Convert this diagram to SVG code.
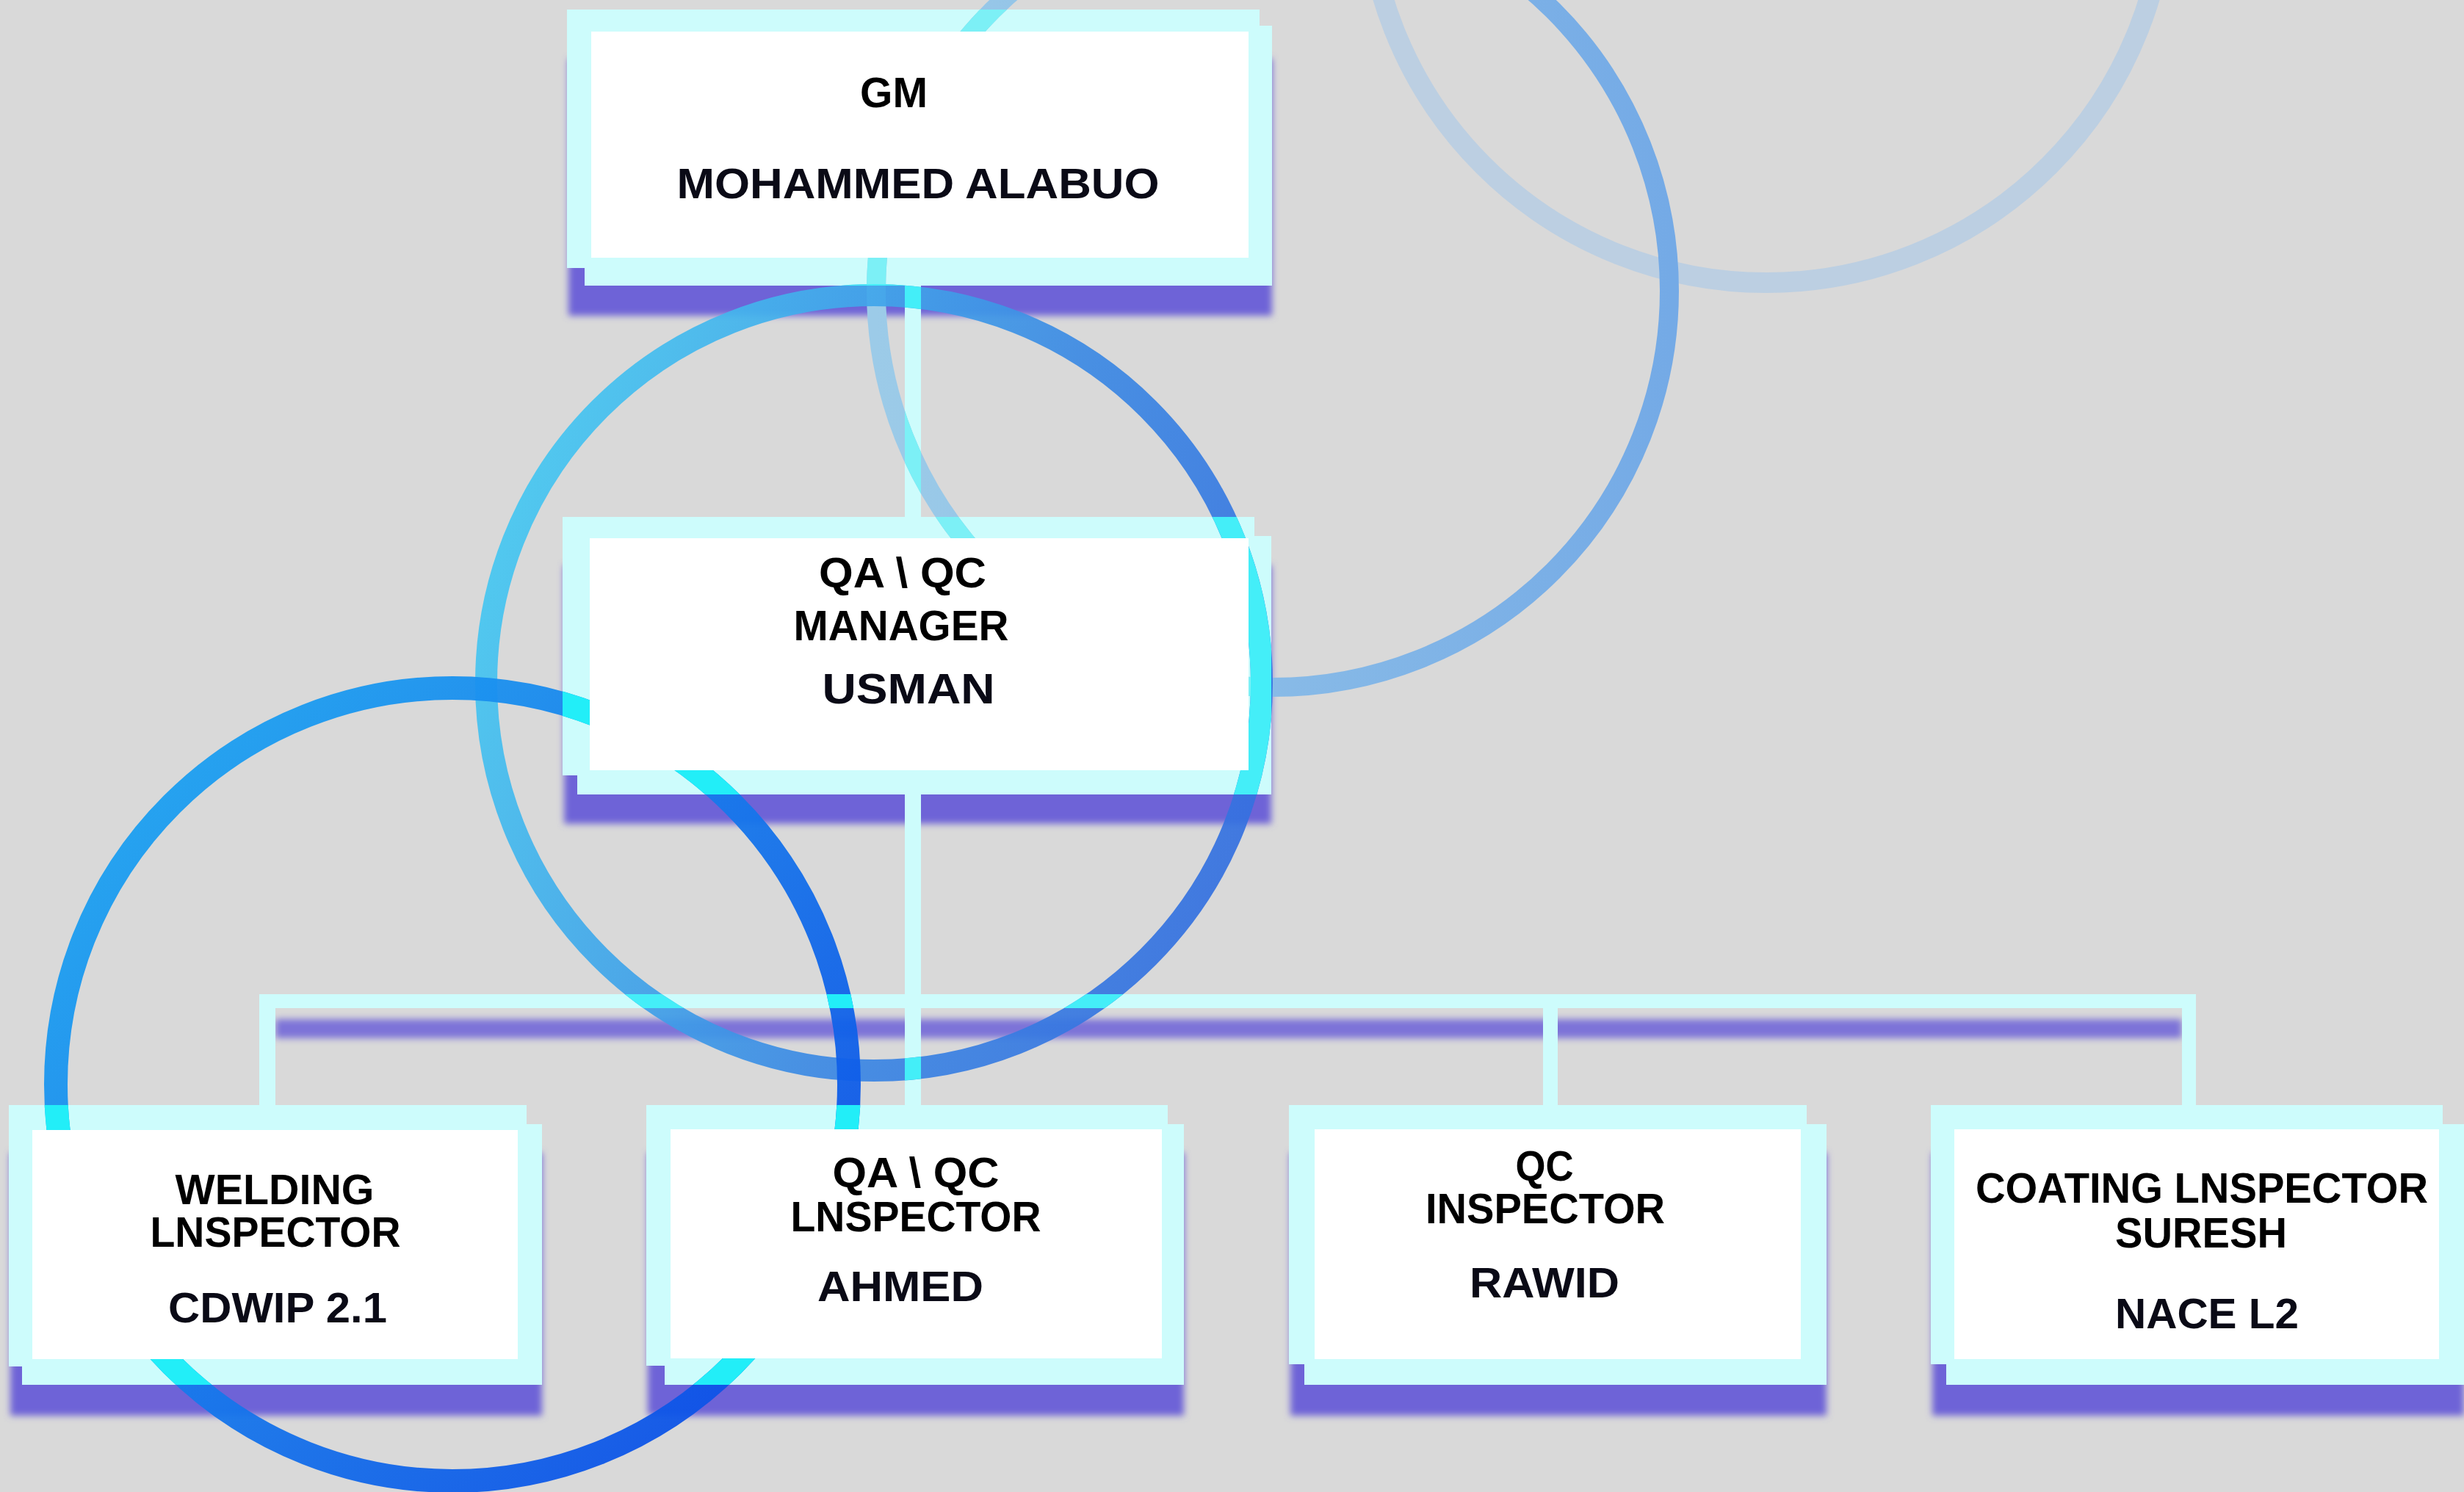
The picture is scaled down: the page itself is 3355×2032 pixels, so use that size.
<svg xmlns="http://www.w3.org/2000/svg" width="3355" height="2032" viewBox="0 0 3355 2032">
<defs>
<style>
.sh{fill:#6e63d7;filter:url(#blur)}
.fr{fill:#cdfcfc}
.wh{fill:#ffffff}
.t{font-family:"Liberation Sans",Arial,sans-serif;font-weight:bold;font-size:58px;text-anchor:middle;fill:#000}
.n{fill:#0a0a16}
.cn{fill:none;stroke:#cdfcfc;stroke-linecap:butt}
.ring{fill:none}
</style>
<filter id="blur" x="-5%" y="-20%" width="110%" height="140%"><feGaussianBlur stdDeviation="5"/></filter>
<filter id="blur2" x="-2%" y="-100%" width="104%" height="300%"><feGaussianBlur stdDeviation="5"/></filter>
<linearGradient id="g2" gradientUnits="userSpaceOnUse" x1="1193" y1="0" x2="2273" y2="0">
<stop offset="0" stop-color="#9ccbe8"/><stop offset="1" stop-color="#74aae6"/>
</linearGradient>
<linearGradient id="g3" gradientUnits="userSpaceOnUse" x1="662" y1="700" x2="1718" y2="1100">
<stop offset="0" stop-color="#46caf2"/><stop offset="0.6" stop-color="#3c8ae4"/><stop offset="1" stop-color="#3470e0"/>
</linearGradient>
<linearGradient id="g4" gradientUnits="userSpaceOnUse" x1="76" y1="1000" x2="1156" y2="1950">
<stop offset="0" stop-color="#1eaaf2"/><stop offset="0.6" stop-color="#1470ea"/><stop offset="1" stop-color="#0a48e6"/>
</linearGradient>
<mask id="inner" maskUnits="userSpaceOnUse" x="0" y="0" width="3355" height="2032">
<rect x="0" y="0" width="3355" height="2032" fill="#fff"/>
<rect x="805" y="43" width="895" height="308" fill="#000"/>
<rect x="803" y="733" width="897" height="316" fill="#000"/>
<rect x="44" y="1539" width="661" height="312" fill="#000"/>
<rect x="913" y="1538" width="669" height="312" fill="#000"/>
<rect x="1790" y="1538" width="662" height="313" fill="#000"/>
<rect x="2661" y="1538" width="660" height="313" fill="#000"/>
</mask>
<clipPath id="frames">
<rect x="772" y="13" width="943" height="352"/><rect x="796" y="35" width="936" height="354"/>
<rect x="766" y="704" width="942" height="352"/><rect x="786" y="730" width="945" height="352"/>
<rect x="12" y="1505" width="705" height="356"/><rect x="30" y="1531" width="708" height="355"/>
<rect x="880" y="1505" width="710" height="355"/><rect x="905" y="1531" width="707" height="355"/>
<rect x="1755" y="1505" width="705" height="353"/><rect x="1776" y="1531" width="711" height="355"/>
<rect x="2629" y="1505" width="697" height="353"/><rect x="2650" y="1531" width="705" height="355"/>
<rect x="1232" y="389" width="22" height="315"/><rect x="1232" y="1082" width="22" height="423"/>
<rect x="353" y="1354" width="2637" height="19"/>
<rect x="353" y="1354" width="22" height="151"/><rect x="2101" y="1354" width="20" height="151"/><rect x="2971" y="1354" width="19" height="151"/>
</clipPath>
</defs>
<rect x="0" y="0" width="3355" height="2032" fill="#d9d9d9"/>

<g id="node-gm">
<rect class="sh" x="774" y="80" width="958" height="350"/>
<rect class="fr" x="772" y="13" width="943" height="352"/>
<rect class="fr" x="796" y="35" width="936" height="354"/>
<rect class="wh" x="805" y="43" width="895" height="308"/>
<text class="t" x="1217" y="146" textLength="92" lengthAdjust="spacingAndGlyphs">GM</text>
<text class="t n" x="1250" y="270" textLength="657" lengthAdjust="spacingAndGlyphs">MOHAMMED ALABUO</text>
</g>

<g id="node-qaqc-manager">
<rect class="sh" x="768" y="770" width="963" height="352"/>
<rect class="fr" x="766" y="704" width="942" height="352"/>
<rect class="fr" x="786" y="730" width="945" height="352"/>
<rect class="wh" x="803" y="733" width="897" height="316"/>
<text class="t" x="1229" y="800" textLength="228" lengthAdjust="spacingAndGlyphs">QA \ QC</text>
<text class="t" x="1227" y="872" textLength="293" lengthAdjust="spacingAndGlyphs">MANAGER</text>
<text class="t n" x="1237" y="958" textLength="235" lengthAdjust="spacingAndGlyphs">USMAN</text>
</g>

<g id="node-welding">
<rect class="sh" x="14" y="1570" width="724" height="358"/>
<rect class="fr" x="12" y="1505" width="705" height="356"/>
<rect class="fr" x="30" y="1531" width="708" height="355"/>
<rect class="wh" x="44" y="1539" width="661" height="312"/>
<text class="t" x="374" y="1640" textLength="271" lengthAdjust="spacingAndGlyphs">WELDING</text>
<text class="t" x="375" y="1698" textLength="341" lengthAdjust="spacingAndGlyphs">LNSPECTOR</text>
<text class="t n" x="378" y="1801" textLength="298" lengthAdjust="spacingAndGlyphs">CDWIP 2.1</text>
</g>

<g id="node-qaqc-inspector">
<rect class="sh" x="882" y="1570" width="730" height="358"/>
<rect class="fr" x="880" y="1505" width="710" height="355"/>
<rect class="fr" x="905" y="1531" width="707" height="355"/>
<rect class="wh" x="913" y="1538" width="669" height="312"/>
<text class="t" x="1247" y="1617" textLength="227" lengthAdjust="spacingAndGlyphs">QA \ QC</text>
<text class="t" x="1247" y="1677" textLength="341" lengthAdjust="spacingAndGlyphs">LNSPECTOR</text>
<text class="t n" x="1226" y="1772" textLength="226" lengthAdjust="spacingAndGlyphs">AHMED</text>
</g>

<g id="node-qc-inspector">
<rect class="sh" x="1757" y="1570" width="730" height="358"/>
<rect class="fr" x="1755" y="1505" width="705" height="353"/>
<rect class="fr" x="1776" y="1531" width="711" height="355"/>
<rect class="wh" x="1790" y="1538" width="662" height="313"/>
<text class="t" x="2103" y="1608" textLength="79" lengthAdjust="spacingAndGlyphs">QC</text>
<text class="t" x="2104" y="1666" textLength="326" lengthAdjust="spacingAndGlyphs">INSPECTOR</text>
<text class="t n" x="2103" y="1767" textLength="204" lengthAdjust="spacingAndGlyphs">RAWID</text>
</g>

<g id="node-coating-inspector">
<rect class="sh" x="2631" y="1570" width="724" height="358"/>
<rect class="fr" x="2629" y="1505" width="697" height="353"/>
<rect class="fr" x="2650" y="1531" width="705" height="355"/>
<rect class="wh" x="2661" y="1538" width="660" height="313"/>
<text class="t" x="2998" y="1638" textLength="616" lengthAdjust="spacingAndGlyphs">COATING LNSPECTOR</text>
<text class="t" x="2997" y="1699" textLength="234" lengthAdjust="spacingAndGlyphs">SURESH</text>
<text class="t n" x="3005" y="1809" textLength="250" lengthAdjust="spacingAndGlyphs">NACE L2</text>
</g>

<g id="connectors">
<rect x="375" y="1388" width="2596" height="26" fill="#7d73d8" filter="url(#blur2)"/>
<path class="cn" stroke-width="22" d="M1243 389 V704"/>
<path class="cn" stroke-width="22" d="M1243 1082 V1505"/>
<path class="cn" stroke-width="19" d="M353 1363.5 H2990"/>
<path class="cn" stroke-width="22" d="M364 1354 V1505"/>
<path class="cn" stroke-width="20" d="M2111 1354 V1505"/>
<path class="cn" stroke-width="19" d="M2980.5 1354 V1505"/>
</g>

<g id="rings" mask="url(#inner)">
<circle class="ring" cx="2405" cy="-160" r="545" stroke="#bccfe2" stroke-width="28"/>
<circle class="ring" cx="1733" cy="396" r="540" stroke="url(#g2)" stroke-width="26"/>
<circle class="ring" cx="1190" cy="930" r="528" stroke="url(#g3)" stroke-width="30" opacity="0.92"/>
<circle class="ring" cx="616" cy="1477" r="540" stroke="url(#g4)" stroke-width="32" opacity="0.95"/>
<g clip-path="url(#frames)">
<circle class="ring" cx="1733" cy="396" r="540" stroke="#7cf0f6" stroke-width="26"/>
<circle class="ring" cx="1190" cy="930" r="528" stroke="#44eef8" stroke-width="30"/>
<circle class="ring" cx="616" cy="1477" r="540" stroke="#22eef8" stroke-width="32"/>
</g>
</g>
</svg>
